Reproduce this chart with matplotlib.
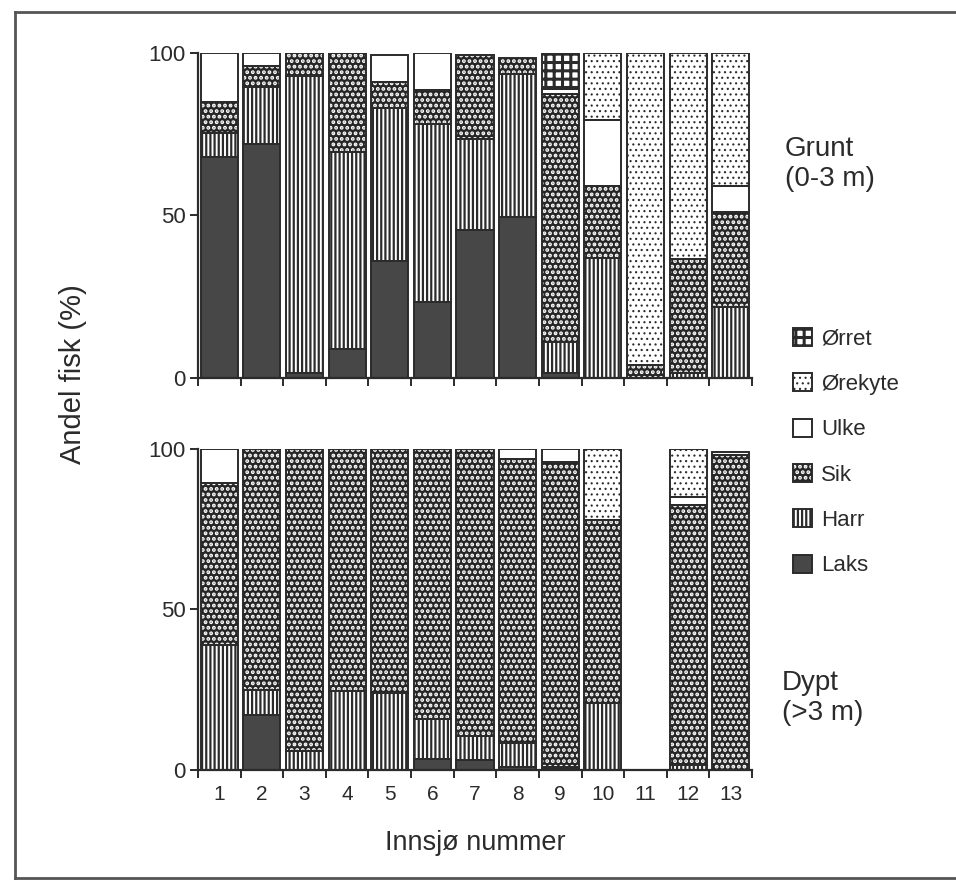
import numpy as np
import matplotlib
matplotlib.use("Agg")
import matplotlib.pyplot as plt
import matplotlib.patches as mpatches
from matplotlib.lines import Line2D
from matplotlib.legend_handler import HandlerBase

plt.rcParams['font.family'] = ['Liberation Sans', 'DejaVu Sans']

# innsjø 1-13, andel (%) per art, fra bunn og oppover
lakes = np.arange(1, 14)
lake_labels = [str(i) for i in lakes]
species = ['Laks', 'Harr', 'Sik', 'Ulke', 'Ørekyte', 'Ørret']

# Grunt (0-3 m)
grunt_laks = [68, 72, 1.5, 9, 36, 23.5, 45.5, 49.5, 1.5, 0, 0, 0, 0]
grunt_harr = [7.5, 17.5, 91.5, 60.5, 47, 54.5, 28, 44, 9.5, 37, 0, 1.5, 22]
grunt_sik = [9.5, 6.5, 7, 30.5, 8, 10.5, 26, 5, 76.5, 22, 4, 35, 29]
grunt_ulke = [15, 4, 0, 0, 8.5, 11.5, 0, 0, 1.5, 20.5, 0, 0, 8]
grunt_orekyte = [0, 0, 0, 0, 0, 0, 0, 0, 0, 20.5, 96, 63.5, 41]
grunt_orret = [0, 0, 0, 0, 0, 0, 0, 0, 11, 0, 0, 0, 0]

# Dypt (>3 m)
dypt_laks = [0, 17, 0, 0, 0, 3.5, 3, 1, 0.5, 0, 0, 0, 0]
dypt_harr = [39, 8, 6, 24.5, 24, 12.5, 7.5, 7.5, 0.5, 21, 0, 1.5, 0]
dypt_sik = [50.5, 75, 94, 75.5, 76, 84, 89.5, 88.5, 95, 57, 0, 81, 98]
dypt_ulke = [10.5, 0, 0, 0, 0, 0, 0, 3, 4, 0, 0, 2.5, 1]
dypt_orekyte = [0, 0, 0, 0, 0, 0, 0, 0, 0, 22, 0, 15, 0]
dypt_orret = [0, 0, 0, 0, 0, 0, 0, 0, 0, 0, 0, 0, 0]

ink = '#2b2b2b'
# fyll, skraveringsfarge, skravering, skraveringsbredde
styles = {
    'Laks':    dict(face='#474747', hcol='#474747', hatch=None, hlw=1.0),
    'Harr':    dict(face='white', hcol=ink, hatch='||||', hlw=1.6),
    'Sik':     dict(face='#262626', hcol='white', hatch='...', hlw=1.9),
    'Ulke':    dict(face='white', hcol='white', hatch=None, hlw=1.0),
    'Ørekyte': dict(face='white', hcol=ink, hatch='...', hlw=0.8),
    'Ørret':   dict(face='white', hcol=ink, hatch='++', hlw=2.2),
}


def set_hlw(patch, lw):
    if hasattr(patch, 'set_hatch_linewidth'):
        patch.set_hatch_linewidth(lw)


class OverlayHandler(HandlerBase):
    # legger skravert fyll og svart ramme oppå hverandre i tegnforklaringen
    def create_artists(self, legend, orig_handle, xdescent, ydescent,
                       width, height, fontsize, trans):
        st = styles[orig_handle]
        plt.rcParams['hatch.linewidth'] = st['hlw']
        fill = mpatches.Rectangle((-xdescent, -ydescent), width, height,
                                  facecolor=st['face'], edgecolor=st['hcol'],
                                  hatch=st['hatch'], linewidth=0, transform=trans)
        set_hlw(fill, st['hlw'])
        edge = mpatches.Rectangle((-xdescent, -ydescent), width, height,
                                  fill=False, edgecolor=ink, linewidth=1.4,
                                  transform=trans)
        return [fill, edge]


def draw_panel(ax, data):
    bottom = np.zeros(len(lakes))
    width = 0.87
    for name, vals in zip(species, data):
        vals = np.array(vals, dtype=float)
        idx = vals > 0
        st = styles[name]
        plt.rcParams['hatch.linewidth'] = st['hlw']
        bars = ax.bar(lakes[idx], vals[idx], width, bottom=bottom[idx],
                      color=st['face'], edgecolor=st['hcol'], hatch=st['hatch'],
                      linewidth=0, zorder=2)
        for b in bars:
            set_hlw(b, st['hlw'])
        ax.bar(lakes[idx], vals[idx], width, bottom=bottom[idx],
               fill=False, edgecolor=ink, linewidth=1.4, zorder=3)
        bottom += vals

    ax.set_xlim(0.5, 13.5)
    ax.set_ylim(0, 100)
    ax.set_yticks([0, 50, 100])
    ax.set_xticks(lakes)
    ax.set_xticks(np.arange(0.5, 14, 1), minor=True)
    ax.tick_params(axis='y', length=6, width=1.4, pad=3, labelsize=16, color=ink, labelcolor=ink)
    ax.tick_params(axis='x', which='major', length=0, pad=11, labelsize=15, labelcolor=ink)
    ax.tick_params(axis='x', which='minor', length=6, width=1.4, color=ink)
    for s in ['top', 'right']:
        ax.spines[s].set_visible(False)
    for s in ['left', 'bottom']:
        ax.spines[s].set_linewidth(1.6)
        ax.spines[s].set_color(ink)


fig = plt.figure(figsize=(9.56, 8.83), dpi=100)
ax_top = fig.add_axes([0.2071, 0.5719, 0.5795, 0.3681])
ax_bot = fig.add_axes([0.2071, 0.1280, 0.5795, 0.3635])

draw_panel(ax_top, [grunt_laks, grunt_harr, grunt_sik, grunt_ulke, grunt_orekyte, grunt_orret])
draw_panel(ax_bot, [dypt_laks, dypt_harr, dypt_sik, dypt_ulke, dypt_orekyte, dypt_orret])
ax_top.set_xticklabels([])
ax_bot.set_xticklabels(lake_labels)

fig.text(785 / 956, 1 - 164 / 883, 'Grunt\n(0-3 m)', fontsize=20, color=ink,
         ha='left', va='center', linespacing=1.25)
fig.text(782 / 956, 1 - 698 / 883, 'Dypt\n(>3 m)', fontsize=20, color=ink,
         ha='left', va='center', linespacing=1.25)
fig.text(73 / 956, 1 - 374 / 883, 'Andel fisk (%)', fontsize=21, color=ink,
         rotation=90, ha='center', va='center')
fig.text(475 / 956, 1 - 843 / 883, 'Innsjø nummer', fontsize=19.5, color=ink,
         ha='center', va='center')

legend_order = species[::-1]
fig.legend(legend_order, legend_order, handler_map={str: OverlayHandler()},
           loc='upper left', bbox_to_anchor=(782 / 956, 1 - 317 / 883),
           frameon=False, fontsize=16, handlelength=0.85, handleheight=0.85,
           handletextpad=0.4, labelspacing=1.07, borderpad=0, labelcolor=ink)

# ramme rundt figuren
frame = dict(color='#555555', linewidth=2, transform=fig.transFigure)
fig.add_artist(Line2D([15 / 956, 15 / 956], [1 - 12 / 883, 1 - 878 / 883], **frame))
fig.add_artist(Line2D([15 / 956, 1.0], [1 - 12 / 883, 1 - 12 / 883], **frame))
fig.add_artist(Line2D([15 / 956, 1.0], [1 - 878 / 883, 1 - 878 / 883], **frame))

fig.savefig('out.png', dpi=100)
